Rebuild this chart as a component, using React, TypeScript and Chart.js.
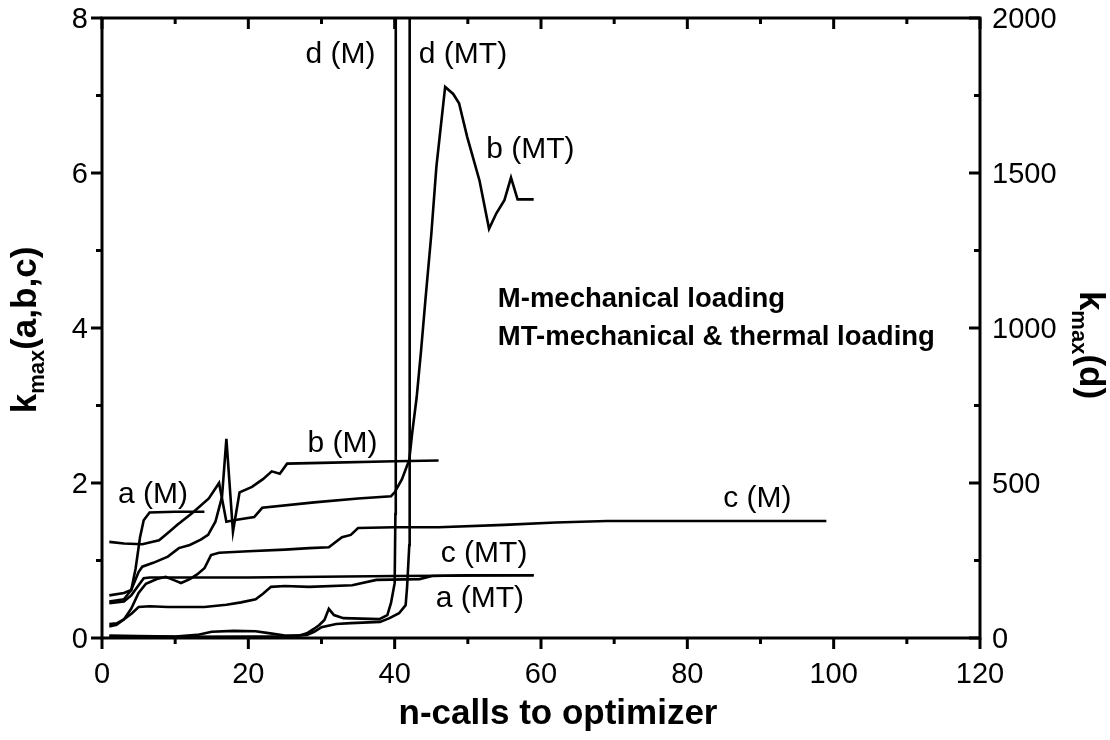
import React, { useEffect, useRef } from "react";
import { Chart, registerables } from "chart.js";

Chart.register(...registerables);

// ---- data (x = n-calls, y = k_max) ----
const aM: [number, number][] = [[1,0.55],[3,0.58],[4,0.62],[4.6,0.9],[5.2,1.3],[5.7,1.52],[6.5,1.62],[10,1.63],[14,1.63]];
const bM: [number, number][] = [[1,0.47],[3,0.5],[4,0.62],[5,0.85],[5.5,0.92],[7,0.97],[9,1.05],[10.5,1.16],[12,1.2],[13.5,1.27],[14.5,1.33],[15.5,1.5],[16.4,1.82],[17,2.57],[17.9,1.37],[18.8,1.88],[20.5,1.95],[22,2.05],[23.2,2.15],[24.3,2.12],[25.3,2.25],[30,2.26],[40,2.28],[46,2.29]];
const cM: [number, number][] = [[1,0.15],[2,0.17],[3,0.24],[4,0.38],[5,0.58],[6,0.7],[7.5,0.76],[8.7,0.79],[10,0.74],[10.8,0.71],[12,0.76],[13,0.82],[14,0.9],[14.9,1.07],[16,1.1],[20,1.12],[25,1.14],[28.3,1.16],[31,1.17],[32.8,1.3],[34,1.33],[35,1.42],[40,1.43],[46,1.43],[55,1.46],[62,1.49],[69,1.51],[85,1.51],[99,1.51]];
const aMT: [number, number][] = [[1,0.18],[2,0.19],[3,0.24],[4.1,0.32],[5,0.4],[6.5,0.41],[9,0.4],[14,0.4],[17,0.43],[19,0.46],[21,0.5],[22,0.57],[23.1,0.66],[25,0.67],[28.3,0.66],[34.2,0.68],[37.5,0.75],[43.4,0.76],[45.1,0.8],[50,0.81],[59,0.81]];
const bMT: [number, number][] = [[1,1.24],[3,1.22],[5.5,1.21],[7.8,1.26],[9.2,1.37],[10.3,1.46],[12.3,1.61],[14.6,1.8],[16,2.0],[17,1.5],[18,1.52],[20.8,1.56],[21.9,1.68],[29,1.75],[35,1.8],[39.5,1.83],[40,1.88],[41,2.05],[42,2.3],[42.4,2.65],[43,3.1],[43.6,3.7],[44.2,4.36],[45,5.2],[45.7,6.08],[46.9,7.11],[48,7.02],[48.8,6.9],[49.9,6.47],[51.6,5.9],[52.9,5.28],[53.9,5.48],[55,5.65],[55.9,5.94],[56.8,5.66],[59,5.66]];
const cMT: [number, number][] = [[1,0.45],[3,0.47],[4,0.55],[5,0.68],[5.7,0.77],[6.5,0.78],[20,0.78],[40,0.8],[59,0.81]];
// right axis (k_max(d))
const dM: [number, number][] = [[1,8],[5,6],[10,5],[13,10],[15,20],[18,23],[21,22],[23,15],[25,8],[27,8],[28,15],[29,30],[29.7,42],[30.4,58],[31,94],[31.7,74],[33,64],[37.9,61],[39,74],[39.5,113],[40,177],[40.1,400],[40.15,3000]];
const dMT: [number, number][] = [[1,5],[5,4],[10,4],[20,5],[25,5],[28,10],[29,20],[30,35],[32,45],[34,48],[38,52],[39.3,64],[40.6,80],[41.5,106],[41.7,165],[42,300],[42.05,3000]];

// ticks
const xMajor = [0, 20, 40, 60, 80, 100, 120];
const xMinor = [10, 30, 50, 70, 90, 110];
const yMajor = [0, 2, 4, 6, 8];
const yMinor = [1, 3, 5, 7];
const y2Major = [0, 500, 1000, 1500, 2000];
const y2Minor = [250, 750, 1250, 1750];

// curve labels in data coordinates (left x, baseline y on left axis)
const curveLabels: { text: string; x: number; y: number }[] = [
  { text: "a (M)", x: 2.2, y: 1.74 },
  { text: "b (M)", x: 28.1, y: 2.4 },
  { text: "c (M)", x: 84.9, y: 1.69 },
  { text: "c (MT)", x: 46.3, y: 0.98 },
  { text: "a (MT)", x: 45.6, y: 0.4 },
  { text: "d (M)", x: 27.8, y: 7.42 },
  { text: "d (MT)", x: 43.3, y: 7.42 },
  { text: "b (MT)", x: 52.5, y: 6.2 },
];
const noteLines = ["M-mechanical loading", "MT-mechanical & thermal loading"];

const FONT = "'Liberation Sans', Arial, sans-serif";

const toPts = (a: [number, number][]) => a.map(([x, y]) => ({ x, y }));

const decorPlugin = {
  id: "decor",
  afterDatasetsDraw(chart: any) {
    const ctx: CanvasRenderingContext2D = chart.ctx;
    const { left, right, top, bottom } = chart.chartArea;
    const sx = chart.scales.x;
    const sy = chart.scales.y;
    const sy2 = chart.scales.y2;
    ctx.save();
    ctx.strokeStyle = "#000";
    ctx.fillStyle = "#000";
    ctx.lineCap = "butt";
    ctx.lineWidth = 3;
    ctx.strokeRect(left, top, right - left, bottom - top);
    const MAJ = 11, MIN = 6;
    const line = (x1: number, y1: number, x2: number, y2: number) => {
      ctx.beginPath(); ctx.moveTo(x1, y1); ctx.lineTo(x2, y2); ctx.stroke();
    };
    xMajor.forEach(v => { const p = sx.getPixelForValue(v); line(p, bottom, p, bottom + MAJ); line(p, top, p, top + MAJ); });
    xMinor.forEach(v => { const p = sx.getPixelForValue(v); line(p, bottom, p, bottom + MIN); line(p, top, p, top + MIN); });
    yMajor.forEach(v => { const p = sy.getPixelForValue(v); line(left - MAJ, p, left, p); });
    yMinor.forEach(v => { const p = sy.getPixelForValue(v); line(left - MIN, p, left, p); });
    y2Major.forEach(v => { const p = sy2.getPixelForValue(v); line(right - MAJ, p, right, p); });
    y2Minor.forEach(v => { const p = sy2.getPixelForValue(v); line(right - MIN, p, right, p); });

    ctx.font = `29px ${FONT}`;
    ctx.textAlign = "center";
    ctx.textBaseline = "alphabetic";
    xMajor.forEach(v => ctx.fillText(String(v), sx.getPixelForValue(v), bottom + 45));
    ctx.textAlign = "right";
    yMajor.forEach(v => ctx.fillText(String(v), left - 14, sy.getPixelForValue(v) + 10));
    ctx.textAlign = "left";
    y2Major.forEach(v => ctx.fillText(String(v), right + 12, sy2.getPixelForValue(v) + 10));

    ctx.font = `bold 35px ${FONT}`;
    ctx.textAlign = "center";
    ctx.fillText("n-calls to optimizer", 558, 724);

    const drawK = (rest: string) => {
      const big = `bold 35px ${FONT}`;
      const small = `bold 22px ${FONT}`;
      ctx.font = big;
      const wk = ctx.measureText("k").width;
      ctx.font = small;
      const wm = ctx.measureText("max").width;
      ctx.font = big;
      const wr = ctx.measureText(rest).width;
      let x = -(wk + wm + wr) / 2;
      ctx.textAlign = "left";
      ctx.font = big;
      ctx.fillText("k", x, 12); x += wk;
      ctx.font = small;
      ctx.fillText("max", x, 20); x += wm;
      ctx.font = big;
      ctx.fillText(rest, x, 12);
    };
    ctx.save();
    ctx.translate(24, 330);
    ctx.rotate(-Math.PI / 2);
    drawK("(a,b,c)");
    ctx.restore();
    ctx.save();
    ctx.translate(1092, 345);
    ctx.rotate(Math.PI / 2);
    drawK("(d)");
    ctx.restore();

    ctx.font = `30px ${FONT}`;
    ctx.textAlign = "left";
    curveLabels.forEach(l => ctx.fillText(l.text, sx.getPixelForValue(l.x), sy.getPixelForValue(l.y)));

    ctx.font = `bold 27.5px ${FONT}`;
    ctx.fillText(noteLines[0], sx.getPixelForValue(54.1), sy.getPixelForValue(4.265));
    ctx.fillText(noteLines[1], sx.getPixelForValue(54.1), sy.getPixelForValue(3.785));
    ctx.restore();
  },
};

export default function App() {
  const ref = useRef<HTMLCanvasElement | null>(null);
  useEffect(() => {
    if (!ref.current) return;
    const mk = (data: [number, number][], axis: string) => ({
      data: toPts(data),
      yAxisID: axis,
      borderColor: "#000",
      borderWidth: 2.6,
      pointRadius: 0,
      fill: false,
      tension: 0,
    });
    const chart = new Chart(ref.current, {
      type: "line",
      data: {
        datasets: [
          mk(aM, "y"), mk(bM, "y"), mk(cM, "y"),
          mk(aMT, "y"), mk(bMT, "y"), mk(cMT, "y"),
          mk(dM, "y2"), mk(dMT, "y2"),
        ],
      },
      options: {
        animation: false,
        responsive: false,
        devicePixelRatio: 1,
        layout: { padding: { left: 102, right: 130, top: 18, bottom: 102 } },
        plugins: { legend: { display: false }, tooltip: { enabled: false } },
        scales: {
          x: { type: "linear", min: 0, max: 120, display: false },
          y: { type: "linear", min: 0, max: 8, display: false },
          y2: { type: "linear", min: 0, max: 2000, display: false, position: "right" },
        },
      },
      plugins: [decorPlugin],
    } as any);
    return () => chart.destroy();
  }, []);
  return (
    <div style={{ position: "absolute", left: 0, top: 0, width: 1110, height: 740, background: "#fff" }}>
      <canvas ref={ref} width={1110} height={740} />
    </div>
  );
}
